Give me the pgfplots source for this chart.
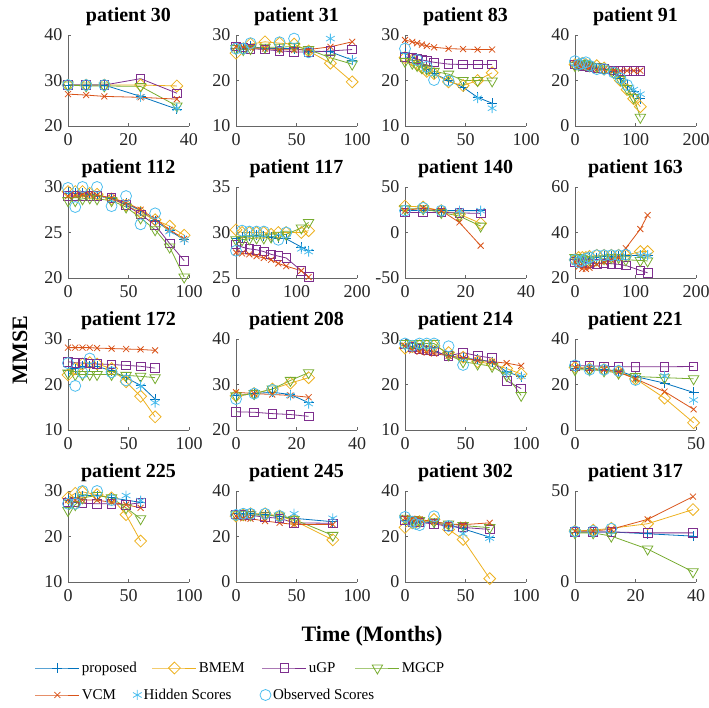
\documentclass[border=0pt]{standalone}
\usepackage{fontspec}
\setmainfont{Liberation Serif}
\usepackage{pgfplots}
\usepackage{pgfplotstable}
\pgfplotsset{compat=1.18}
\definecolor{cP}{rgb}{0,0.447,0.741}
\definecolor{cB}{rgb}{0.929,0.694,0.125}
\definecolor{cU}{rgb}{0.494,0.184,0.556}
\definecolor{cM}{rgb}{0.466,0.674,0.188}
\definecolor{cV}{rgb}{0.85,0.325,0.098}
\definecolor{cH}{rgb}{0.301,0.745,0.933}

\pgfplotsset{
 prop/.style={color=cP, line width=0.8pt, mark=+, mark size=5pt},
 bmem/.style={color=cB, line width=0.8pt, mark=square, mark size=4.2pt, mark options={rotate=45}},
 ugp/.style={color=cU, line width=0.8pt, mark=square, mark size=4.3pt},
 mgcp/.style={color=cM, line width=0.8pt, mark=triangle, mark size=6pt, mark options={rotate=180}},
 vcm/.style={color=cV, line width=0.8pt, mark=x, mark size=4.2pt},
 hid/.style={color=cH, line width=0.8pt, only marks, mark=asterisk, mark size=5pt},
 obs/.style={color=cH, line width=0.8pt, only marks, mark=o, mark size=5.5pt},
 longleg/.style={legend image code/.code={\draw[mark repeat=2,mark phase=2,##1] plot coordinates {(0pt,0pt) (22pt,0pt) (44pt,0pt)};}},
 dotleg/.style={legend image code/.code={\draw[##1] plot coordinates {(5pt,0pt)};}},
 pstyle/.style={anchor=south west, scale only axis, width=121pt, height=91pt,
   axis lines*=left, axis line style={black!60, line width=0.6pt},
   tick style={black!60, line width=0.6pt}, tick align=inside, major tick length=3pt,
   xticklabel style={font=\fontsize{18}{18}\selectfont, text=black!85, yshift=-4pt},
   yticklabel style={font=\fontsize{18}{18}\selectfont, text=black!85, xshift=-2pt},
   /pgf/number format/assume math mode=true,
   title style={font=\bfseries\fontsize{20}{20}\selectfont},
   enlargelimits=false},
}

\pgfplotstableread{
t p b u m v h o
0 29 29 29 29 27 nan 29
6 29 29 29 28.8 26.8 nan 29
12 29 29 29 28.8 26.5 nan 29
24 26.5 29 30.4 28.7 26.3 26.4 nan
36 23.7 28.8 27.2 24.4 25.9 23.9 nan
}\tA
\pgfplotstableread{
t p b u m v h o
0 27 26 27.5 27 27.5 nan 27
6 27 27 27.3 26.8 27.3 nan 27
12 27.5 28 27 27 27.2 nan 28.2
24 27 28.5 26.8 27.3 27 nan nan
36 27 28.2 26.5 27.3 26.8 nan 28.4
48 27 28 26.3 27.5 26.7 nan 29.2
60 26.5 26.5 26.2 26.8 26.8 nan 26.2
78 26.3 23.8 26.5 25 27.4 29.2 nan
96 24.5 19.7 26.8 23.6 28.5 24.5 nan
}\tB
\pgfplotstableread{
t p b u m v h o
0 26 25 25.2 24.2 28.9 nan 27
6 25 24.5 25 23.8 28.5 nan nan
10 24.5 23.5 24.7 23.3 28.2 nan 24.5
14 23.5 22.8 24.5 22.8 27.9 nan nan
18 22.5 22 24.3 22.5 27.6 nan 23
24 21.5 21.5 24 22 27.3 nan 20.1
36 20 19.7 23.6 21.4 27 nan 20
48 18.5 18.9 23.5 20 26.9 nan nan
60 16.3 20 23.5 20 26.8 16.1 nan
72 15 21.7 23.5 19.9 26.8 13.9 nan
}\tC
\pgfplotstableread{
t p b u m v h o
0 28 27 27 26.5 27.5 nan 28.5
6 27.5 27 26.8 26.8 27 nan 27
12 27 27.5 26.5 27.5 26.5 nan 27.5
18 26.5 27 26.2 27 26 nan 28
24 26 26.5 26 26.5 25.5 nan 26.5
36 25.5 26.5 25.5 26 25 nan 25
48 25 25.5 25 25 24.8 nan 25
64 24 23.5 24.5 23.5 24.5 nan 23.5
75 21 20 24.3 20.5 24.3 nan 21
86 18 16 24.3 16.5 24.3 nan 18
97 15 12 24.3 12.5 24.3 16 nan
108 12 8.5 24.3 3.8 24.3 14 nan
}\tD
\pgfplotstableread{
t p b u m v h o
0 29.3 29.5 29 28.5 29 nan 29.9
6 29.3 29.5 29 28.5 29.1 nan 27.8
12 29.3 29.5 29 28.7 29.2 nan 30
18 29.2 29.3 29 28.8 29.2 nan nan
24 29 29.2 29 28.7 29.1 nan 30
36 28.8 28.7 28.8 28.5 28.8 nan 27.9
48 28.2 28 28 27.8 28.3 nan 29
60 27.4 27.2 27 26.6 27.5 nan 25.9
72 26.3 26.4 25.8 25.3 26.5 nan 27.1
84 25.2 25.7 23.8 23.4 25.3 25.1 nan
96 24.2 24.7 21.9 20.1 24.3 24.2 nan
}\tE
\pgfplotstableread{
t p b u m v h o
0 29.3 30.3 28.7 29.2 27.8 nan 28
10 29.5 30 28.4 29.2 27.7 nan 30.2
22 29.6 30 28.2 29.3 27.6 nan 30.1
34 29.7 30 28.1 29.4 27.4 nan 30.1
46 29.6 30 27.9 29.4 27.2 nan 30.1
58 29.5 29.8 27.6 29.5 27 nan nan
70 29.4 30 27.4 29.7 26.6 nan 29.2
83 29.3 30 27.2 29.8 26.3 nan 30
108 28.4 30 25.8 30.5 25.8 28.2 nan
120 28 30.2 25.1 31.1 25.1 27.9 nan
}\tF
\pgfplotstableread{
t p b u m v h o
0 24 29 22 26 24 nan 24
6 24.5 28 22 26 27 nan 27
12 24 24 22 22 24 nan 24
18 24 20 21.5 18 11 24 nan
25 24 10 21 7 -14.5 24 nan
}\tG
\pgfplotstableread{
t p b u m v h o
0 28 28 27 29 27 nan 28
6 28 29 27 29 25 nan 27
12 28.5 29 26.5 28.5 24 nan 27.5
18 28.5 29 26.5 28 24 nan 28.5
24 29 29.5 26.5 28 24.5 nan 29
36 29 30 26.3 28 26 nan 30
48 29.5 30 26.5 28.5 27 nan 30
60 29.5 30 26.3 29 28 nan 30
72 29.5 30 26 29 29 nan 30
84 29.8 30 25.5 28 33.1 nan 30.2
108 30 31.6 23.3 27.7 41.5 30 nan
120 30 31.6 22.3 27.5 47.6 30 nan
}\tH
\pgfplotstableread{
t p b u m v h o
0 23 22.1 25 22.5 28.1 nan 24.7
6 23.5 23.5 24.8 22.2 28.1 nan 19.7
12 24 24.5 24.7 22.2 28.1 nan 22.6
18 24 24.8 24.6 22.2 28.1 nan 25.7
24 24 24.5 24.5 22.2 28 nan nan
36 23 23.5 24.4 22.2 27.9 nan 22.7
48 21.5 20.6 24.2 22 27.8 nan 20.9
60 19.8 17.4 24 21.8 27.7 19.6 nan
72 16.8 12.9 23.6 21.5 27.5 16 nan
}\tI
\pgfplotstableread{
t p b u m v h o
0 27.5 27.5 24 27.5 28.3 nan 26.8
6 28 28 23.9 28 28 nan 28
12 28.3 29 23.6 29 27.8 nan 28.8
18 27.8 30.3 23.4 30.9 27.6 27.6 nan
24 26 31.5 23 32.6 27.2 25.8 nan
}\tJ
\pgfplotstableread{
t p b u m v h o
0 28.5 28 28.8 29 28.5 nan 29
6 28 28.3 28.3 29 27.5 nan 28.5
12 27.8 28.5 27.8 29 27.2 nan 29
18 27.5 28.5 27.5 29 27 nan 29
24 27.3 28.5 27.3 29 26.8 nan 29
36 26.3 27 26.3 26.5 26.3 nan 28.4
48 25.8 26 27 25 25.8 nan 24.3
60 25.5 25 26.3 24.5 25.3 nan nan
72 25 24.5 25.8 24 25 nan nan
84 22.8 23.5 20.8 22 24.7 22.5 nan
96 21.7 22.3 19.1 17.6 24.1 21.8 nan
}\tK
\pgfplotstableread{
t p b u m v h o
0 27 27.5 28.3 26.5 27.5 nan 28.4
6 27 27 28.2 26.5 27 nan 26.5
12 26.5 26.5 28 26 26.5 nan 26.5
18 26 25.5 27.8 25 25.5 nan 26
25 23.5 22.5 27.8 23.5 22.5 nan 22
37 20.6 14 27.8 23 16.9 23.8 nan
49 16.5 3.2 27.9 22.5 9.1 13.2 nan
}\tL
\pgfplotstableread{
t p b u m v h o
0 28 28.5 27.5 25.7 28 nan 27.2
6 28.5 29.5 27.5 27 28 nan 27.2
12 29 29.8 27.3 28.5 28 nan 30
24 29 29.2 27.2 29 28 nan 30
36 28.5 28.5 27.2 28.5 27.5 nan 28
48 28 24.8 27 26.3 27 29 nan
60 27.5 19 27.4 23.9 26.3 27.9 nan
}\tM
\pgfplotstableread{
t p b u m v h o
0 30 29 29.8 29.5 29 nan 29.5
6 30 29.5 29.5 29.8 28 nan 30
12 30 30 29.3 29.5 27.8 nan 30
24 29.5 30 28.5 29.3 26.8 nan 30
36 29 29 28 29 26 nan 29
48 28 27 26 27.5 25.3 30 nan
80 26.5 18.5 25.8 20.5 25.3 28 nan
}\tN
\pgfplotstableread{
t p b u m v h o
0 27 24 27 28 28 nan 28.6
6 27 26 26.5 27.5 27.8 nan 26.5
9 26.8 26.3 26.5 27.2 27.6 nan 25.5
12 26.5 26.5 26.2 27 27.5 nan 25
24 26 27.5 25.5 26.5 26.5 nan 28.9
36 25 23.1 24.5 25.5 25.5 nan 24.6
48 23.4 18.7 24 24.8 25.2 21.2 nan
70 19.7 1.5 23.1 23.9 26 19.3 nan
}\tO
\pgfplotstableread{
t p b u m v h o
0 27.5 28 27.5 27 28 nan 27.8
6 27.5 28.5 27.5 27 28 nan 28
12 27.5 29.5 27.5 25.2 29 nan 29.3
24 26.5 32 27 18.1 34.4 nan nan
39 25.2 39.8 27 5.6 46.9 nan nan
}\tP

\newcommand{\panel}[4]{%
\begin{axis}[pstyle, at={(#1)}, title={#2}, #3]
\addplot[prop] table[x=t,y=p]{#4};
\addplot[bmem] table[x=t,y=b]{#4};
\addplot[ugp] table[x=t,y=u]{#4};
\addplot[mgcp] table[x=t,y=m]{#4};
\addplot[vcm] table[x=t,y=v]{#4};
\addplot[hid] table[x=t,y=h]{#4};
\addplot[obs] table[x=t,y=o]{#4};
\end{axis}}

\newcommand{\legitem}[3]{%
\begin{axis}[hide axis, scale only axis, width=5pt, height=5pt, anchor=south west, at={(#1)},
  xmin=0, xmax=1, ymin=0, ymax=1,
  legend style={draw=none, fill=none, inner sep=0pt, outer sep=0pt,
    at={(axis description cs:0,0.5)}, anchor=west, font=\fontsize{15}{15}\selectfont},
  legend cell align=left]
\addlegendimage{#2}
\addlegendentry{#3}
\end{axis}}

\begin{document}
\begin{tikzpicture}
\panel{68pt,582pt}{patient 30}{xmin=0,xmax=40,xtick={0,20,40},ymin=20,ymax=40,ytick={20,30,40}}{\tA}
\panel{236pt,582pt}{patient 31}{xmin=0,xmax=100,xtick={0,50,100},ymin=10,ymax=30,ytick={10,20,30}}{\tB}
\panel{405pt,582pt}{patient 83}{xmin=0,xmax=100,xtick={0,50,100},ymin=10,ymax=30,ytick={10,20,30}}{\tC}
\panel{575pt,582pt}{patient 91}{xmin=0,xmax=200,xtick={0,100,200},ymin=0,ymax=40,ytick={0,20,40}}{\tD}
\panel{68pt,430pt}{patient 112}{xmin=0,xmax=100,xtick={0,50,100},ymin=20,ymax=30,ytick={20,25,30}}{\tE}
\panel{236pt,430pt}{patient 117}{xmin=0,xmax=200,xtick={0,100,200},ymin=25,ymax=35,ytick={25,30,35}}{\tF}
\panel{405pt,430pt}{patient 140}{xmin=0,xmax=40,xtick={0,20,40},ymin=-50,ymax=50,ytick={-50,0,50}}{\tG}
\panel{575pt,430pt}{patient 163}{xmin=0,xmax=200,xtick={0,100,200},ymin=20,ymax=60,ytick={20,40,60}}{\tH}
\panel{68pt,278pt}{patient 172}{xmin=0,xmax=100,xtick={0,50,100},ymin=10,ymax=30,ytick={10,20,30}}{\tI}
\panel{236pt,278pt}{patient 208}{xmin=0,xmax=40,xtick={0,20,40},ymin=20,ymax=40,ytick={20,30,40}}{\tJ}
\panel{405pt,278pt}{patient 214}{xmin=0,xmax=100,xtick={0,50,100},ymin=10,ymax=30,ytick={10,20,30}}{\tK}
\panel{575pt,278pt}{patient 221}{xmin=0,xmax=50,xtick={0,50},ymin=0,ymax=40,ytick={0,20,40}}{\tL}
\panel{68pt,126pt}{patient 225}{xmin=0,xmax=100,xtick={0,50,100},ymin=10,ymax=30,ytick={10,20,30}}{\tM}
\panel{236pt,126pt}{patient 245}{xmin=0,xmax=100,xtick={0,50,100},ymin=0,ymax=40,ytick={0,20,40}}{\tN}
\panel{405pt,126pt}{patient 302}{xmin=0,xmax=100,xtick={0,50,100},ymin=0,ymax=40,ytick={0,20,40}}{\tO}
\panel{575pt,126pt}{patient 317}{xmin=0,xmax=40,xtick={0,20,40},ymin=0,ymax=50,ytick={0,50}}{\tP}

\node[rotate=90, font=\bfseries\fontsize{22}{22}\selectfont] at (20pt,358pt) {MMSE};
\node[font=\bfseries\fontsize{22}{22}\selectfont] at (372pt,72pt) {Time (Months)};

\legitem{35pt,37.5pt}{prop,longleg}{proposed}
\legitem{152pt,37.5pt}{bmem,longleg}{BMEM}
\legitem{262pt,37.5pt}{ugp,longleg}{uGP}
\legitem{355pt,37.5pt}{mgcp,longleg}{MGCP}
\legitem{35pt,10.5pt}{vcm,longleg}{VCM}
\legitem{133pt,10.5pt}{hid,dotleg}{Hidden Scores}
\legitem{260pt,10.5pt}{obs,dotleg}{Observed Scores}

\pgfresetboundingbox
\useasboundingbox (0pt,0pt) rectangle (709pt,708pt);
\end{tikzpicture}
\end{document}
